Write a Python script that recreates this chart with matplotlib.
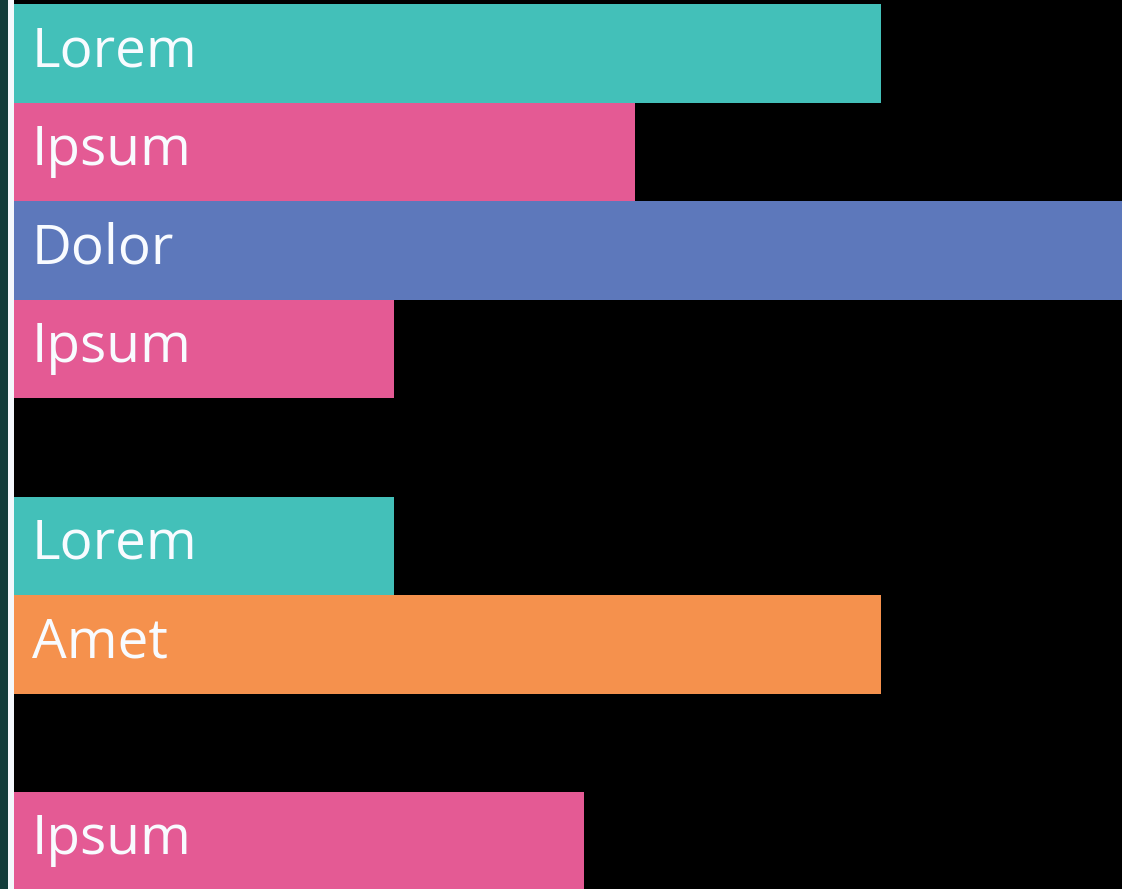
import matplotlib
matplotlib.use("Agg")
import matplotlib.pyplot as plt
from matplotlib.patches import Rectangle

# Bar rows from top to bottom; None marks an empty row
labels = ["Lorem", "Ipsum", "Dolor", "Ipsum", None, "Lorem", "Amet", None, "Ipsum"]
values = [90.5, 65, 120, 40, None, 40, 90.5, None, 59.7]
colors = {
    "Lorem": "#43c0b9",
    "Ipsum": "#e45a94",
    "Dolor": "#5d78bb",
    "Amet": "#f5914d",
}

W, H, DPI = 1122, 889, 100
fig = plt.figure(figsize=(W / DPI, H / DPI), dpi=DPI, facecolor="black")

# dark side strip
fig.patches.append(Rectangle((0, 0), 8 / W, 1, transform=fig.transFigure,
                             facecolor="#123d3b", edgecolor="none", zorder=0))

left_px, top_px = 8, 4
ax = fig.add_axes([left_px / W, 0, 1 - left_px / W, 1 - top_px / H])
ax.set_facecolor("black")

slot_px = 98.5
n_slots = (H - top_px) / slot_px
ax.set_ylim(-0.5 + n_slots, -0.5)
px_per_unit = 9.65
ax.set_xlim(0, (W - left_px) / px_per_unit)

for i, (lab, val) in enumerate(zip(labels, values)):
    if lab is None:
        continue
    ax.barh(i, val, height=1.0, color=colors[lab], edgecolor="none", zorder=2)
    ax.text(24 / px_per_unit, i + 13 / slot_px, lab, color="#f8fbff",
            fontsize=39.5, family="Open Sans", fontweight="medium",
            va="baseline", ha="left", zorder=3)

# white baseline along the bar origin
ax.add_patch(Rectangle((8 / W, 0), 5.5 / W, 1, transform=fig.transFigure,
                       facecolor="#f4f8fc", edgecolor="none", zorder=5,
                       clip_on=False))

ax.set_xticks([])
ax.set_yticks([])
for s in ax.spines.values():
    s.set_visible(False)

fig.savefig("out.png", dpi=DPI, facecolor="black")
